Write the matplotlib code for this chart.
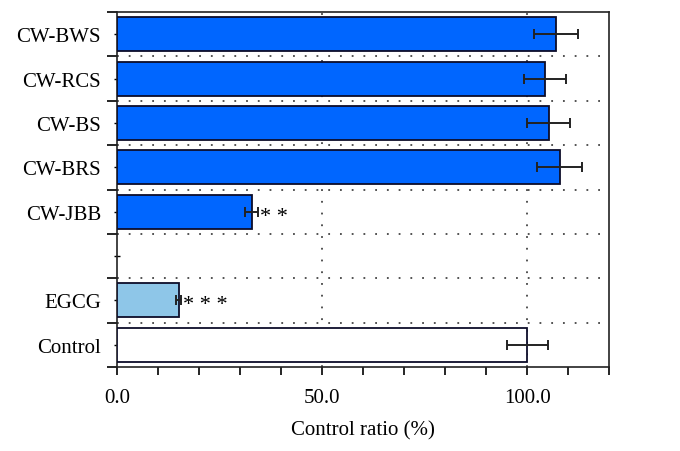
import numpy as np
import matplotlib
matplotlib.use('Agg')
import matplotlib.pyplot as plt

plt.rcParams['font.family'] = ['Liberation Serif', 'DejaVu Serif']

# data, top to bottom (blank slot between CW-JBB and EGCG)
labels = ['CW-BWS', 'CW-RCS', 'CW-BS', 'CW-BRS', 'CW-JBB', '', 'EGCG', 'Control']
values = [107.0, 104.3, 105.2, 107.9, 32.8, np.nan, 15.0, 100.0]
errors = [5.4, 5.2, 5.3, 5.5, 1.6, np.nan, 0.7, 5.0]
colors = ['#0066ff', '#0066ff', '#0066ff', '#0066ff', '#0066ff', 'white', '#8ec6e8', 'white']
stars = ['', '', '', '', '**', '', '***', '']

fig = plt.figure(figsize=(6.8, 4.52), dpi=100)
ax = fig.add_axes([0.172, 0.186, 0.724, 0.785])

n = len(labels)
ypos = np.arange(n)
for i in range(n):
    if np.isnan(values[i]):
        continue
    ax.barh(ypos[i], values[i], height=0.77, color=colors[i], edgecolor='#0d0d2a',
            linewidth=1.3, zorder=3)
    ax.errorbar(values[i], ypos[i], xerr=errors[i], fmt='none', ecolor='#222222',
                elinewidth=1.4, capsize=3.5, capthick=1.4, zorder=4)
    if stars[i]:
        ax.text(values[i] + errors[i] + 0.4, ypos[i] + 0.1, ' '.join(stars[i]),
                va='center', ha='left', fontsize=16, zorder=5)

ax.set_xlim(0, 120)
ax.set_ylim(n - 0.5, -0.5)

# x ticks
ax.set_xticks(np.arange(0, 121, 10))
ax.set_xticklabels(['%.1f' % v if v in (0, 50, 100) else '' for v in np.arange(0, 121, 10)],
                   fontsize=15)
ax.tick_params(axis='x', direction='out', length=6, width=1.2, pad=9)
ax.set_xlabel('Control ratio (%)', fontsize=15, labelpad=10)

# y ticks: boundaries major, centres minor with labels
bounds = np.arange(-0.5, n, 1.0)
ax.set_yticks(bounds)
ax.set_yticklabels([''] * len(bounds))
ax.set_yticks(ypos, minor=True)
ax.set_yticklabels(labels, minor=True, fontsize=15)
ax.tick_params(axis='y', which='major', direction='out', length=7, width=1.2)
ax.tick_params(axis='y', which='minor', direction='inout', length=5, width=1.0, pad=9)

# dotted grid
for b in bounds[1:-1]:
    ax.axhline(b, color='#444444', linestyle=(0, (1, 5.5)), linewidth=1.3, zorder=1)
for v in [50, 100]:
    ax.axvline(v, color='#444444', linestyle=(0, (1, 5.5)), linewidth=1.3, zorder=1)

for s in ax.spines.values():
    s.set_linewidth(1.2)
    s.set_color('#222222')

fig.savefig('out.png', dpi=100)
